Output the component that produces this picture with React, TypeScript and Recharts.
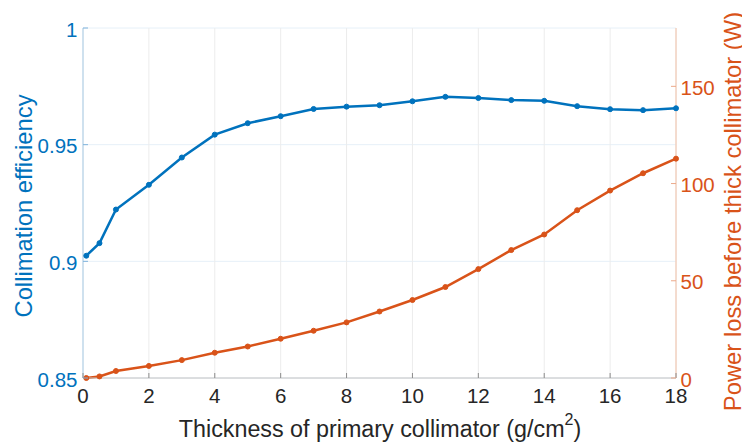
import React from 'react';
import { LineChart, Line, XAxis, YAxis, CartesianGrid, Label } from 'recharts';

const thickness = [0.1, 0.5, 1, 2, 3, 4, 5, 6, 7, 8, 9, 10, 11, 12, 13, 14, 15, 16, 17, 18];
const efficiency = [0.9024, 0.9078, 0.9222, 0.9328, 0.9445, 0.9543, 0.9592, 0.9622, 0.9653, 0.9663, 0.9669, 0.9686, 0.9705, 0.97, 0.9691, 0.9688, 0.9665, 0.9652, 0.9648, 0.9656];
const powerLoss = [0, 0.8, 3.6, 6.2, 9.2, 13.0, 16.2, 20.2, 24.3, 28.6, 34.2, 40.1, 46.8, 56.0, 65.8, 73.8, 86.3, 96.4, 105.3, 112.8];

const xTicks = [0, 2, 4, 6, 8, 10, 12, 14, 16, 18];
const leftTicks = [0.85, 0.9, 0.95, 1];
const rightTicks = [0, 50, 100, 150];

const xLabelMain = 'Thickness of primary collimator (g/cm';
const xLabelSup = '2';
const xLabelEnd = ')';
const leftLabel = 'Collimation efficiency';
const rightLabel = 'Power loss before thick collimator (W)';

const data = thickness.map((t, i) => ({ t, eff: efficiency[i], loss: powerLoss[i] }));

const BLUE = '#0072BD';
const RED = '#D95319';
const FONT = '"Liberation Sans", Arial, Helvetica, sans-serif';

const BottomTick = (props: any) => {
  const { x, y, payload } = props;
  return (
    <g>
      <line x1={x} x2={x} y1={y} y2={y - 5} stroke="#8c8c8c" strokeWidth={1} />
      <text x={x} y={y + 25} textAnchor="middle" fontSize={20.5} fill="#262626" fontFamily={FONT}>
        {payload.value}
      </text>
    </g>
  );
};

const TopTick = (props: any) => {
  const { x, y } = props;
  return <line x1={x} x2={x} y1={y} y2={y + 5} stroke="#8c8c8c" strokeWidth={1} />;
};

const LeftTick = (props: any) => {
  const { x, y, payload } = props;
  return (
    <g>
      <line x1={x} x2={x + 5} y1={y} y2={y} stroke="#7fb3dc" strokeWidth={1} />
      <text x={x - 5.5} y={y + 8.5} textAnchor="end" fontSize={20.5} fill={BLUE} fontFamily={FONT}>
        {String(payload.value)}
      </text>
    </g>
  );
};

const RightTick = (props: any) => {
  const { x, y, payload } = props;
  return (
    <g>
      <line x1={x} x2={x - 5} y1={y} y2={y} stroke="#eca98a" strokeWidth={1} />
      <text x={x + 4.5} y={y + 8.5} textAnchor="start" fontSize={20.5} fill={RED} fontFamily={FONT}>
        {String(payload.value)}
      </text>
    </g>
  );
};

export default function App() {
  return (
    <div style={{ position: 'absolute', left: 0, top: 0, width: 742, height: 443, background: '#fff' }}>
      <LineChart width={742} height={443} data={data} margin={{ top: 28, right: 0, bottom: 0, left: 0 }}>
        <CartesianGrid xAxisId="bottom" yAxisId="left" vertical={false} stroke="#e6f0f8" strokeWidth={1} />
        <CartesianGrid xAxisId="bottom" yAxisId="left" horizontal={false} stroke="#ececec" strokeWidth={1} />
        <XAxis
          xAxisId="bottom"
          dataKey="t"
          type="number"
          domain={[0, 18]}
          ticks={xTicks}
          height={65}
          tickSize={0}
          tickMargin={0}
          tick={<BottomTick />}
          axisLine={{ stroke: '#c4c4c4', strokeWidth: 1 }}
          interval={0}
        >
          <Label
            content={(p: any) => {
              const vb = p.viewBox;
              const cx = vb.x + vb.width / 2 + 0.5;
              const by = vb.y + 59;
              return (
                <text x={cx} y={by} textAnchor="middle" fontSize={23.3} fill="#262626" fontFamily={FONT}>
                  <tspan>{xLabelMain}</tspan>
                  <tspan dy={-12} fontSize={16}>{xLabelSup}</tspan>
                  <tspan dy={12}>{xLabelEnd}</tspan>
                </text>
              );
            }}
          />
        </XAxis>
        <XAxis
          xAxisId="top"
          orientation="top"
          dataKey="t"
          type="number"
          domain={[0, 18]}
          ticks={xTicks}
          height={0}
          tickSize={0}
          tickMargin={0}
          tick={<TopTick />}
          axisLine={{ stroke: '#c4c4c4', strokeWidth: 1 }}
          interval={0}
        />
        <YAxis
          yAxisId="left"
          orientation="left"
          type="number"
          domain={[0.85, 1]}
          ticks={leftTicks}
          width={83}
          tickSize={0}
          tickMargin={0}
          tick={<LeftTick />}
          axisLine={{ stroke: '#a9cde8', strokeWidth: 1 }}
          interval={0}
        >
          <Label
            content={(p: any) => {
              const vb = p.viewBox;
              const cx = vb.x + 31.5;
              const cy = vb.y + vb.height / 2 + 3;
              return (
                <text x={cx} y={cy} transform={`rotate(-90 ${cx} ${cy})`} textAnchor="middle" fontSize={23.8} fill={BLUE} fontFamily={FONT}>
                  {leftLabel}
                </text>
              );
            }}
          />
        </YAxis>
        <YAxis
          yAxisId="right"
          orientation="right"
          type="number"
          domain={[0, 180]}
          ticks={rightTicks}
          width={66}
          tickSize={0}
          tickMargin={0}
          tick={<RightTick />}
          axisLine={{ stroke: '#f3c2a8', strokeWidth: 1 }}
          interval={0}
        >
          <Label
            content={(p: any) => {
              const vb = p.viewBox;
              const cx = vb.x + 64.5;
              const cy = vb.y + vb.height / 2 + 8.5;
              return (
                <text x={cx} y={cy} transform={`rotate(-90 ${cx} ${cy})`} textAnchor="middle" fontSize={23.8} fill={RED} fontFamily={FONT}>
                  {rightLabel}
                </text>
              );
            }}
          />
        </YAxis>
        <Line
          xAxisId="bottom"
          yAxisId="left"
          type="linear"
          dataKey="eff"
          stroke={BLUE}
          strokeWidth={2.5}
          dot={{ r: 2.5, fill: BLUE, stroke: BLUE, strokeWidth: 1 }}
          isAnimationActive={false}
        />
        <Line
          xAxisId="bottom"
          yAxisId="right"
          type="linear"
          dataKey="loss"
          stroke={RED}
          strokeWidth={2.5}
          dot={{ r: 2.5, fill: RED, stroke: RED, strokeWidth: 1 }}
          isAnimationActive={false}
        />
      </LineChart>
    </div>
  );
}
